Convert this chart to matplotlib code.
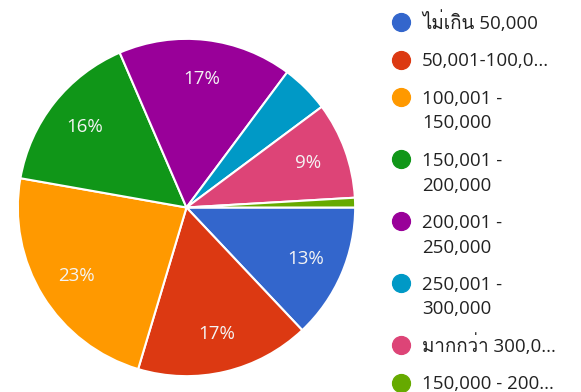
import matplotlib
matplotlib.use('Agg')
import matplotlib.pyplot as plt
from matplotlib import font_manager
from matplotlib.ft2font import FT2Font

# income brackets and number of responses per bracket
labels = ['ไม่เกิน 50,000', '50,001-100,0...', '100,001 -\n150,000', '150,001 -\n200,000',
          '200,001 -\n250,000', '250,001 -\n300,000', 'มากกว่า 300,0...', '150,000 - 200...']
counts = [14, 18, 25, 17, 18, 5, 10, 1]
colors = ['#3366cc', '#dc3912', '#ff9900', '#109618', '#990099', '#0099c6', '#dd4477', '#66aa00']


def find_thai_font():
    for f in font_manager.fontManager.ttflist:
        try:
            if 0x0E44 in FT2Font(f.fname).get_charmap():
                return f.name
        except Exception:
            pass
    return None


families = ['Open Sans', 'DejaVu Sans']
thai = find_thai_font()
if thai:
    families.insert(1, thai)
plt.rcParams['font.family'] = families

fig = plt.figure(figsize=(5.81, 3.92), dpi=100)
ax = fig.add_axes([17 / 581, 15 / 392, 339 / 581, 339 / 392])


def pct_label(p):
    return '%d%%' % round(p) if p >= 8 else ''


wedges, texts, autotexts = ax.pie(counts, colors=colors, startangle=0, counterclock=False,
                                  autopct=pct_label, pctdistance=0.77,
                                  wedgeprops=dict(edgecolor='white', linewidth=1.5))
for t in autotexts:
    t.set_color('#f4f4f4')
    t.set_fontsize(13.5)
ax.set_xlim(-1.005, 1.005)
ax.set_ylim(-1.005, 1.005)
ax.set_aspect('equal')

# legend drawn in pixel coordinates on the right side
lax = fig.add_axes([0, 0, 1, 1])
lax.set_xlim(0, 581)
lax.set_ylim(392, 0)
lax.axis('off')
y = 22
for lab, c in zip(labels, colors):
    lax.scatter([401], [y], s=165, color=c, zorder=3)
    lines = lab.split('\n')
    for i, line in enumerate(lines):
        lax.text(422, y + 25 * i + 6.5, line, fontsize=13.5, color='#222222', va='baseline')
    y += 37.5 + 24.5 * (len(lines) - 1)

fig.savefig('out.png', dpi=100)
